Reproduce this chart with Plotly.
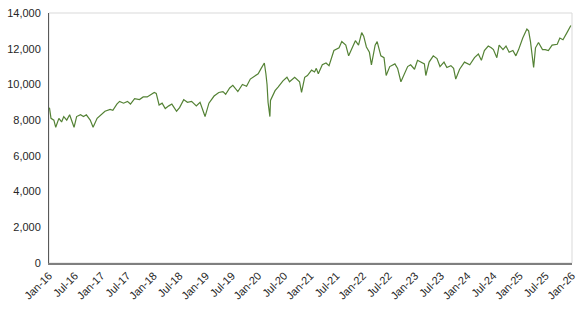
import plotly.graph_objects as go

dates = [
    "2016-01-04", "2016-01-15", "2016-02-04", "2016-02-17", "2016-03-10", "2016-03-29",
    "2016-04-13", "2016-05-04", "2016-05-24", "2016-06-24", "2016-07-12", "2016-08-08",
    "2016-08-29", "2016-09-18", "2016-10-15", "2016-11-04", "2016-12-02", "2016-12-30",
    "2017-01-26", "2017-03-03", "2017-03-22", "2017-04-19", "2017-05-08", "2017-06-05",
    "2017-07-02", "2017-07-23", "2017-08-21", "2017-09-24", "2017-10-20", "2017-11-17",
    "2017-12-13", "2018-01-05", "2018-01-19", "2018-02-08", "2018-03-01", "2018-03-23",
    "2018-04-17", "2018-05-08", "2018-06-10", "2018-07-01", "2018-07-30", "2018-08-25",
    "2018-09-23", "2018-10-26", "2018-11-21", "2018-12-26", "2019-01-22", "2019-02-27",
    "2019-04-01", "2019-04-30", "2019-05-19", "2019-06-16", "2019-07-08", "2019-08-12",
    "2019-09-13", "2019-10-12", "2019-11-07", "2019-12-06", "2020-01-01", "2020-01-22",
    "2020-02-13", "2020-02-24", "2020-03-03", "2020-03-10", "2020-03-16", "2020-03-23",
    "2020-03-27", "2020-04-17", "2020-04-28", "2020-05-19", "2020-06-22", "2020-07-20",
    "2020-08-07", "2020-09-12", "2020-10-16", "2020-10-30", "2020-11-21", "2020-12-10",
    "2021-01-08", "2021-01-29", "2021-02-10", "2021-02-24", "2021-03-24", "2021-04-19",
    "2021-05-10", "2021-06-13", "2021-07-19", "2021-08-07", "2021-09-04", "2021-09-24",
    "2021-10-16", "2021-11-10", "2021-12-02", "2021-12-24", "2022-01-07", "2022-01-26",
    "2022-02-16", "2022-03-02", "2022-03-28", "2022-04-11", "2022-05-07", "2022-05-29",
    "2022-06-13", "2022-07-08", "2022-08-13", "2022-09-01", "2022-09-24", "2022-10-19",
    "2022-11-10", "2022-12-01", "2022-12-28", "2023-01-18", "2023-02-14", "2023-03-07",
    "2023-03-17", "2023-04-09", "2023-05-08", "2023-06-03", "2023-06-24", "2023-07-22",
    "2023-08-11", "2023-09-08", "2023-09-27", "2023-10-12", "2023-11-08", "2023-12-12",
    "2024-01-18", "2024-02-20", "2024-03-18", "2024-04-08", "2024-04-29", "2024-05-26",
    "2024-06-16", "2024-07-01", "2024-07-25", "2024-08-10", "2024-09-06", "2024-09-27",
    "2024-10-19", "2024-11-14", "2024-12-05", "2024-12-24", "2025-01-22", "2025-02-20",
    "2025-03-04", "2025-03-17", "2025-04-08", "2025-04-21", "2025-05-12", "2025-06-09",
    "2025-06-28", "2025-07-20", "2025-08-15", "2025-09-20", "2025-10-08", "2025-10-30",
    "2025-11-27", "2025-12-24",
]

values = [
    8700, 8100, 8000, 7600, 8100, 7900,
    8200, 8000, 8300, 7600, 8200, 8300,
    8200, 8300, 8000, 7600, 8100, 8300,
    8500, 8600, 8550, 8900, 9050, 8950,
    9050, 8900, 9200, 9150, 9300, 9300,
    9450, 9550, 9500, 8850, 8950, 8650,
    8800, 8900, 8500, 8700, 9150, 9000,
    9050, 8800, 9000, 8200, 8950, 9350,
    9550, 9600, 9450, 9800, 9950, 9600,
    10000, 9900, 10300, 10450, 10600, 10900,
    11200, 10600, 10000, 9000, 8600, 8200,
    9100, 9450, 9650, 9850, 10200, 10400,
    10150, 10400, 10150, 9550, 10400, 10500,
    10800, 10700, 10900, 10600, 11100, 11200,
    11050, 11900, 12050, 12400, 12200, 11600,
    12050, 12450, 12200, 12900, 12700, 12100,
    11800, 11100, 12200, 12400, 11600, 11500,
    10500, 11000, 11150, 10900, 10150, 10600,
    11000, 11100, 10850, 11350, 11250, 11150,
    10500, 11250, 11600, 11450, 11000, 11250,
    10950, 11050, 10900, 10300, 10850, 11250,
    11100, 11500, 11700, 11350, 11900, 12150,
    12050, 11950, 11500, 12200, 11950, 12150,
    11800, 11900, 11600, 11950, 12600, 13100,
    13000, 12400, 10950, 12050, 12350, 11950,
    11950, 11900, 12200, 12250, 12600, 12500,
    12900, 13300,
]

tick_vals = ["%d-%02d-01" % (y, m) for y in range(2016, 2026) for m in (1, 7)] + ["2026-01-01"]
tick_text = ["%s-%02d" % ("Jan" if m == 1 else "Jul", y % 100) for y in range(2016, 2026) for m in (1, 7)] + ["Jan-26"]

y_ticks = [0, 2000, 4000, 6000, 8000, 10000, 12000, 14000]

fig = go.Figure()
fig.add_trace(go.Scatter(
    x=dates, y=values, mode="lines",
    line=dict(color="#548235", width=1.2),
    hoverinfo="skip", showlegend=False,
))

fig.add_shape(type="rect", xref="paper", yref="paper", x0=0, x1=1, y0=0, y1=1,
              line=dict(color="#D9D9D9", width=1), layer="below")

fig.update_layout(
    width=584, height=334,
    margin=dict(l=45, r=7, t=10, b=71),
    paper_bgcolor="white", plot_bgcolor="white",
    font=dict(family="Liberation Sans, Arial, sans-serif", size=11, color="#262626"),
    xaxis=dict(
        type="date", range=["2016-01-01", "2026-01-01"],
        tickmode="array", tickvals=tick_vals, ticktext=tick_text,
        tickangle=-45, showgrid=False, zeroline=False,
        showline=True, linecolor="#7F7F7F", linewidth=2,
        ticks="", tickfont=dict(size=11),
    ),
    yaxis=dict(
        range=[0, 14000], tickmode="array", tickvals=y_ticks,
        tickformat=",d", showgrid=False, zeroline=False,
        showline=True, linecolor="#595959", linewidth=1,
        ticks="", ticklen=0, tickfont=dict(size=11),
        ticklabelstandoff=5,
    ),
)

fig.write_html("out.html")
